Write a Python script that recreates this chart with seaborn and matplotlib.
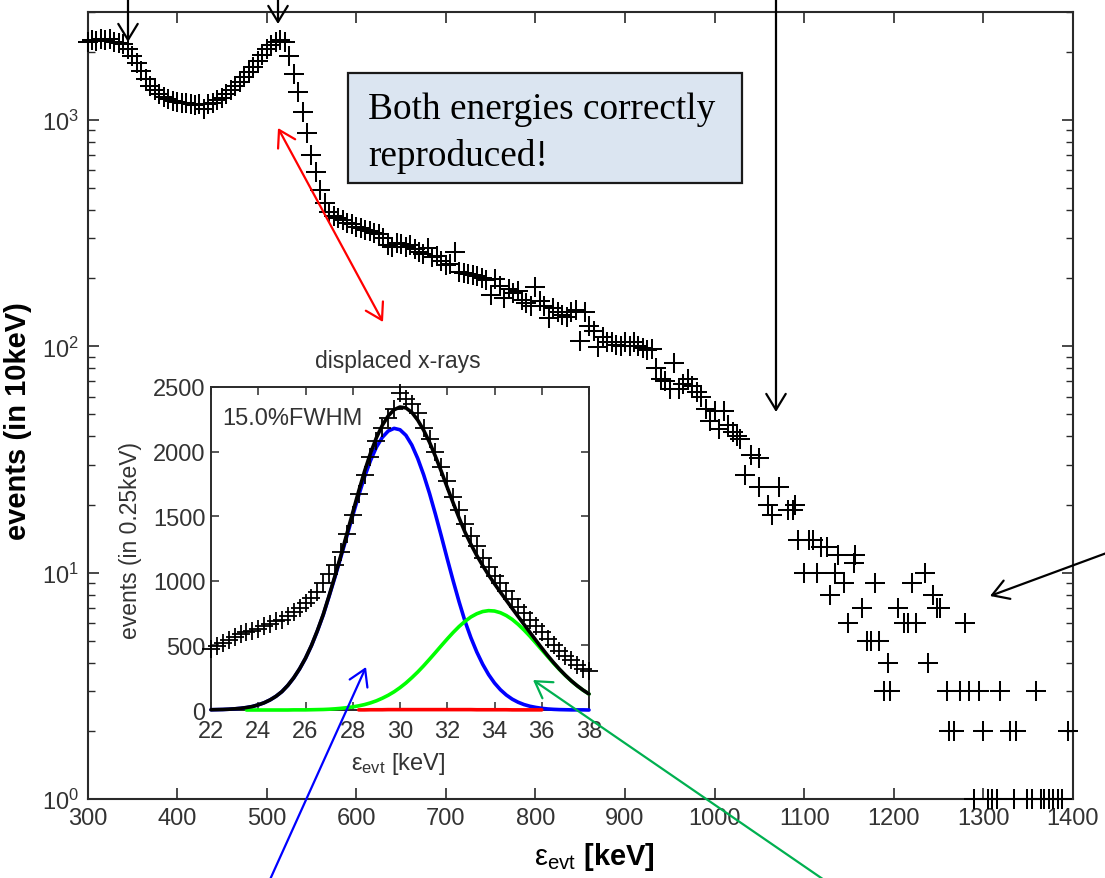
import numpy as np
import pandas as pd
import matplotlib
matplotlib.use("Agg")
import matplotlib.pyplot as plt
from matplotlib.patches import Rectangle, FancyArrowPatch, ArrowStyle
import seaborn as sns

# ---------------- main spectrum (counts per bin) ----------------
grid_start, grid_step = 300, 5          # keV, first bin and bin spacing of the dense part
dense_counts = [
    2200, 2260, 2230, 2290, 2250, 2270, 2220, 2190, 2160, 2060,   # 300-345
    1920, 1780, 1640, 1520, 1420, 1350, 1300, 1260, 1240, 1215,   # 350-395
    1200, 1190, 1185, 1175, 1170, 1175, 1120, 1180, 1190, 1220,   # 400-445
    1255, 1300, 1350, 1410, 1470, 1550, 1630, 1720, 1830, 1940,   # 450-495
    2050, 2150, 2220, 2250, 2200, 1920, 1600, 1330, 1080, 880,    # 500-545
    700, 590, 490, 430, 392, 375, 370, 362, 352, 348,             # 550-595
    338, 333, 328, 324, 318, 312, 300, 280, 276, 286,             # 600-645
    282, 276, 280, 268, 262, 256, 272, 248, 250, 238,             # 650-695
    228, 232, 260, 212, 210, 208, 206, 204, 200, 196,             # 700-745
    168, 199, 184, 164, 180, 172, 176, 160, 155, 150,             # 750-795
    182, 158, 150, 133, 148, 142, 138, 135, 142, 144,             # 800-845
    106, 142, 123, 117, 99, 110, 105, 104, 101, 100,              # 850-895
    104, 100, 104, 100, 98, 96, 97, 80, 72, 70,                   # 900-945
    65, 84, 65, 68, 72, 67, 63, 60, 53, 47,                       # 950-995
    52, 43, 52, 45, 42, 40,                                       # 1000-1025
]
tail_energy = [
    1028, 1034, 1041, 1049, 1050, 1060, 1064, 1072, 1082, 1087,
    1090, 1093, 1100, 1105, 1110, 1114, 1119, 1125, 1129, 1134,
    1138, 1144, 1149, 1155, 1157, 1164, 1170, 1175, 1179, 1184,
    1189, 1194, 1196, 1205, 1211, 1216, 1220, 1225, 1235, 1238,
    1244, 1248, 1252, 1259, 1262, 1267, 1274, 1279, 1284, 1290,
    1295, 1299, 1305, 1310, 1315, 1318, 1330, 1334, 1336, 1349,
    1354, 1359, 1364, 1368, 1373, 1378, 1383, 1388, 1394,
]
tail_counts = [
    39, 27, 33, 32, 24, 20, 18, 24, 19, 19,
    20, 14, 10, 14, 14, 10, 13, 13, 8, 10,
    12, 9, 6, 11, 12, 7, 5, 5, 9, 5,
    3, 4, 3, 7, 6, 6, 9, 6, 10, 4,
    8, 7, 7, 3, 2, 2, 3, 6, 3, 1,
    3, 2, 1, 1, 1, 3, 2, 1, 2, 1,
    1, 3, 1, 1, 1, 1, 1, 1, 2,
]

# ---------------- inset: displaced x-ray line (0.25 keV bins) ----------------
inset_lo, inset_hi, inset_bin = 22.0, 38.0, 0.25
inset_counts = [
    470, 495, 520, 545, 565, 585, 600, 615, 630, 648, 665, 685, 700, 725, 755, 790,
    825, 865, 915, 980, 1050, 1125, 1220, 1360, 1510, 1670, 1820, 1960, 2080, 2180, 2260, 2330,
    2450, 2410, 2370, 2300, 2180, 2100, 2000, 1880, 1770, 1650, 1545, 1440, 1350, 1270, 1180, 1110,
    1040, 980, 920, 860, 800, 750, 700, 650, 600, 550, 505, 460, 420, 385, 350, 320, 300,
]
fit_main_peak = [
    2, 3, 4, 6, 9, 13, 19, 27, 40, 56, 78, 106, 142, 190, 248, 318,
    400, 497, 610, 735, 880, 1030, 1185, 1345, 1505, 1660, 1805, 1930, 2034, 2110, 2159, 2180,
    2169, 2126, 2051, 1947, 1821, 1676, 1515, 1345, 1170, 1000, 838, 688, 560, 449, 354, 274,
    209, 157, 116, 84, 60, 42, 29, 20, 13, 8, 5, 3, 2, 1, 1, 1, 0,
]
nan = np.nan
fit_shifted_peak = [
    nan, nan, nan, nan, nan, nan, 0, 0, 0, 0, 0, 0, 0, 0, 1, 1,
    1, 2, 3, 4, 6, 9, 13, 18, 24, 32, 42, 55, 71, 91, 114, 141,
    173, 209, 250, 294, 342, 393, 445, 498, 550, 600, 646, 686, 720, 745, 762, 769,
    766, 753, 731, 701, 663, 619, 571, 519, 466, 414, 362, 313, 267, 225, 187, 153, 124,
]
fit_background = [
    nan, nan, nan, nan, nan, nan, nan, nan, nan, nan, nan, nan, nan, nan, nan, nan,
    nan, nan, nan, nan, nan, nan, nan, nan, nan, 1, 1, 2, 2, 2, 3, 3,
    3, 3, 3, 3, 3, 3, 3, 3, 3, 3, 3, 3, 3, 2, 2, 2,
    2, 2, 2, 1, 1, 1, 1, 1, 1, nan, nan, nan, nan, nan, nan, nan, nan,
]
fit_total = [
    2, 3, 4, 6, 9, 13, 19, 27, 40, 56, 78, 106, 142, 190, 249, 319,
    401, 499, 613, 739, 886, 1039, 1198, 1363, 1529, 1693, 1848, 1987, 2107, 2203, 2276, 2324,
    2345, 2338, 2304, 2244, 2166, 2072, 1963, 1846, 1723, 1603, 1487, 1377, 1283, 1196, 1118, 1045,
    977, 912, 849, 786, 724, 662, 601, 540, 480, 422, 367, 316, 269, 226, 188, 154, 124,
]

# ---------------- assemble tables ----------------
dense_energy = grid_start + grid_step * np.arange(len(dense_counts))
spectrum = pd.DataFrame({
    "energy": np.concatenate([dense_energy, tail_energy]),
    "counts": np.concatenate([dense_counts, tail_counts]).astype(float),
})
inset_energy = inset_lo + inset_bin * np.arange(len(inset_counts))
xray = pd.DataFrame({
    "energy": inset_energy,
    "counts": inset_counts,
    "main": fit_main_peak,
    "shifted": fit_shifted_peak,
    "bkg": fit_background,
    "total": fit_total,
})

# ---------------- style ----------------
sns.set_theme(style="ticks")
plt.rcParams["font.family"] = ["Liberation Sans", "DejaVu Sans"]
plt.rcParams["mathtext.fontset"] = "custom"
plt.rcParams["mathtext.rm"] = "Liberation Sans"
plt.rcParams["mathtext.it"] = "Liberation Sans:italic"
plt.rcParams["mathtext.bf"] = "Liberation Sans:bold"

W, H = 1105, 879
fig = plt.figure(figsize=(W / 100, H / 100), dpi=100)
fig.patch.set_facecolor("white")

def fx(px):
    return px / W

def fy(py):
    return 1 - py / H

frame_col = "#2a2a2a"
label_col = "#333333"

# ---------------- main axes ----------------
ax = fig.add_axes([fx(87.5), fy(800), fx(1073) - fx(87.5), fy(13) - fy(800)])
sns.scatterplot(data=spectrum, x="energy", y="counts", marker="+", s=190,
                color="black", linewidth=1.45, ax=ax, legend=False,
                clip_on=False, zorder=3)
ax.set_yscale("log")
ax.set_xlim(300, 1400)
ax.set_ylim(1, 3000)
ax.set_xticks(np.arange(300, 1401, 100))
ax.set_xlabel("")
ax.set_ylabel("")
ax.tick_params(axis="both", which="major", direction="in", length=8, width=1.2,
               top=True, right=True, labelsize=17, labelcolor=label_col,
               color=frame_col, pad=6)
ax.tick_params(axis="y", which="minor", direction="in", length=5, width=1.0,
               left=True, right=True, color=frame_col)
ax.tick_params(axis="x", which="minor", bottom=False, top=False)
for sp in ax.spines.values():
    sp.set_color(frame_col)
    sp.set_linewidth(1.5)

fig.text(fx(18), fy(421), "events (in 10keV)", rotation=90, ha="center",
         va="center", fontsize=21, fontweight="bold", color="black")
fig.text(fx(594), fy(857), r"$\mathrm{\varepsilon}_{\mathrm{evt}}$ [keV]",
         ha="center", va="center", fontsize=21, fontweight="bold", color="black")

# ---------------- inset ----------------
axin = fig.add_axes([fx(211), fy(711), fx(589) - fx(211), fy(388) - fy(711)])
axin.set_facecolor("white")
curve_kw = dict(lw=2.6, ax=axin, errorbar=None, sort=False, clip_on=False)
sns.lineplot(data=xray, x="energy", y="main", color="#0000ff", zorder=3, **curve_kw)
sns.lineplot(data=xray, x="energy", y="shifted", color="#00ff00", zorder=4, **curve_kw)
sns.lineplot(data=xray, x="energy", y="bkg", color="#ff0000", zorder=5, **curve_kw)
sns.lineplot(data=xray, x="energy", y="total", color="black", zorder=6, **curve_kw)
sns.scatterplot(data=xray, x="energy", y="counts", marker="+", s=150,
                color="black", linewidth=1.3, ax=axin, legend=False,
                clip_on=False, zorder=7)
axin.set_xlim(22, 38)
axin.set_ylim(0, 2500)
axin.set_xticks(np.arange(22, 39, 2))
axin.set_yticks(np.arange(0, 2501, 500))
axin.set_xlabel("")
axin.set_ylabel("")
axin.tick_params(axis="both", which="major", direction="in", length=6, width=1.1,
                 top=True, right=True, labelsize=17, labelcolor=label_col,
                 color=frame_col, pad=4)
axin.tick_params(axis="x", which="major", pad=7)
for sp in axin.spines.values():
    sp.set_color(frame_col)
    sp.set_linewidth(1.4)
axin.text(0.03, 0.905, "15.0%FWHM", transform=axin.transAxes, ha="left",
          va="center", fontsize=17, color=label_col)

fig.text(fx(398), fy(362), "displaced x-rays", ha="center", va="center",
         fontsize=16.5, color=label_col)
fig.text(fx(131), fy(541), "events (in 0.25keV)", rotation=90, ha="center",
         va="center", fontsize=16.5, color=label_col)
fig.text(fx(398), fy(764), r"$\mathrm{\varepsilon}_{\mathrm{evt}}$ [keV]",
         ha="center", va="center", fontsize=17, color=label_col)

# ---------------- callout box ----------------
fig.add_artist(Rectangle((fx(348), fy(184)), fx(742) - fx(348), fy(74) - fy(184),
                         transform=fig.transFigure, facecolor="#dbe5f1",
                         edgecolor="#1a1a1a", linewidth=1.6, zorder=5))
for line, base in (("Both energies correctly", 119), ("reproduced!", 166)):
    fig.text(fx(368), fy(base), line, ha="left", va="baseline", fontsize=26.8,
             family=["Liberation Serif", "DejaVu Serif"], color="black", zorder=6)

# ---------------- arrows ----------------
def arrow(p0, p1, color, style="->"):
    st = ArrowStyle(style, head_length=1.15, head_width=0.7)
    fig.add_artist(FancyArrowPatch((fx(p0[0]), fy(p0[1])), (fx(p1[0]), fy(p1[1])),
                                   transform=fig.transFigure, arrowstyle=st,
                                   mutation_scale=10, lw=1.6, color=color,
                                   shrinkA=0, shrinkB=0, zorder=7))

arrow((128, -5), (128, 43), "black")
arrow((278, -5), (278, 25), "black")
arrow((776, -5), (776, 413), "black")
arrow((1112, 552), (990, 597), "black")
arrow((278, 129), (383, 323), "#ff0000", "<->")
arrow((268, 885), (366, 668), "#0000ff")
arrow((830, 885), (533, 681), "#00b050")

fig.savefig("out.png", dpi=100, facecolor="white")
